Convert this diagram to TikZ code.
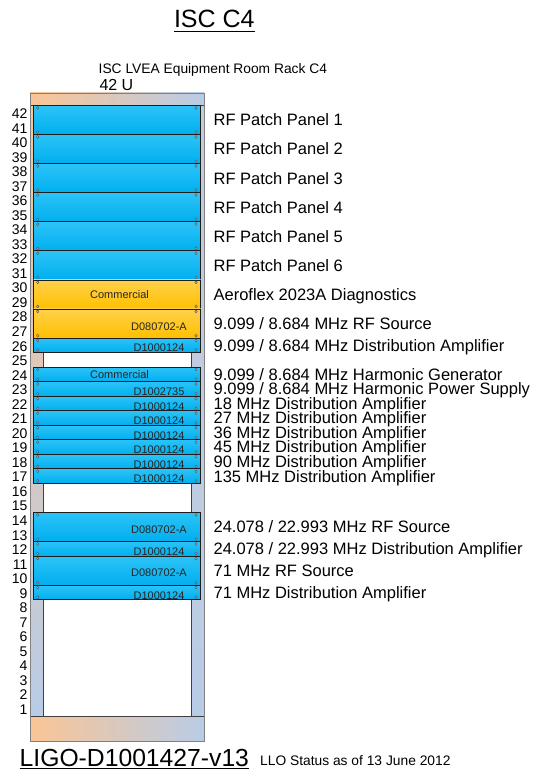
\documentclass[tikz,border=0pt]{standalone}
\usepackage{fontspec}
\setmainfont{Liberation Sans}
\usetikzlibrary{positioning}

\definecolor{rackpeach}{HTML}{FAC596}
\definecolor{rackblue}{HTML}{B9CCE6}
\definecolor{panelblue}{HTML}{00AFEF}
\definecolor{panelbluelt}{HTML}{2CC3F7}
\definecolor{panelorange}{HTML}{FFC000}
\definecolor{panelorangelt}{HTML}{FFD04A}
\definecolor{edge}{HTML}{1E1E1E}

\begin{document}
\begin{tikzpicture}[
			x=1pt, y=14.536pt,
			every node/.style={inner sep=0pt, text=black},
			screw/.style={draw=black!65, line width=0.5pt, fill=black!20, fill opacity=0.6},
			panel/.style={
				draw=edge, line width=0.8pt, minimum width=167pt,
				path picture={
					\foreach \a/\dx/\dy in {north west/4.2/-2.4, north east/-4.4/-2.4, south west/4.2/2.4, south east/-4.4/2.4}
					\draw[screw] ([shift={(\dx pt,\dy pt)}]path picture bounding box.\a) ellipse[x radius=1.2pt, y radius=1.5pt];
				}
			},
			bluepanel/.style={panel, top color=panelbluelt, bottom color=panelblue},
			orangepanel/.style={panel, top color=panelorangelt, bottom color=panelorange},
			oneU/.style={minimum height=14.536pt},
			twoU/.style={minimum height=29.072pt},
			tag/.style={font=\fontsize{11}{12}\selectfont, text=black!85, text height=7.9pt, text depth=0pt},
			desc/.style={font=\fontsize{16.5}{18}\selectfont, text height=11.8pt, text depth=0pt},
			unum/.style={font=\fontsize{14}{15}\selectfont, anchor=east, text height=10pt, text depth=0pt},
			rail/.style={draw=black!75, line width=0.8pt}
			]
			
			\useasboundingbox[fill=white] (0,-3.646) rectangle (536,49.257);
			
			% rack frame
			\shade[rail, left color=rackpeach, right color=rackblue] (30,42) rectangle (204,42.86);
			\shade[rail, top color=rackpeach, bottom color=rackblue] (30,0) rectangle (43,42);
			\shade[rail, top color=rackblue!80!rackpeach, bottom color=rackblue] (191.7,0) rectangle (204,42);
			\shade[rail, left color=rackpeach, right color=rackblue] (30,-1.72) rectangle (204,0);
			\draw[black!50, line width=0.8pt] (30,-1.72) rectangle (204,42.86);
			
			\foreach \n in {1,...,42}
			\node[unum] (u\n) at (27.7,{\n-0.55}) {\n};
			
			% titles
			\node[font=\fontsize{25}{28}\selectfont, anchor=base] (title) at (214.3,47.33) {ISC C4};
			\draw[line width=1.3pt] ([yshift=-3.5pt]title.base west) -- ([yshift=-3.5pt]title.base east);
			\node[font=\fontsize{13.8}{16}\selectfont, anchor=base west] (rack) at (98.5,44.19) {ISC LVEA Equipment Room Rack C4};
			\node[font=\fontsize{16}{18}\selectfont, anchor=base west] (height) at (99.3,43.02) {42 U};
			
			% patch panels
			\node[bluepanel, twoU] (pp1) at (117,41) {};
			\node[bluepanel, twoU] (pp2) at (117,39) {};
			\node[bluepanel, twoU] (pp3) at (117,37) {};
			\node[bluepanel, twoU] (pp4) at (117,35) {};
			\node[bluepanel, twoU] (pp5) at (117,33) {};
			\node[bluepanel, twoU] (pp6) at (117,31) {};
			
			% 9 MHz chassis
			\node[orangepanel, twoU] (aero) at (117,29) {};
			\node[orangepanel, twoU] (src9) at (117,27) {};
			\node[bluepanel, oneU] (dist9) at (117,25.5) {};
			
			\node[bluepanel, oneU] (hgen) at (117,23.5) {};
			\node[bluepanel, oneU] (hps) at (117,22.5) {};
			\node[bluepanel, oneU] (da18) at (117,21.5) {};
			\node[bluepanel, oneU] (da27) at (117,20.5) {};
			\node[bluepanel, oneU] (da36) at (117,19.5) {};
			\node[bluepanel, oneU] (da45) at (117,18.5) {};
			\node[bluepanel, oneU] (da90) at (117,17.5) {};
			\node[bluepanel, oneU] (da135) at (117,16.5) {};
			
			% 24 and 71 MHz chassis
			\node[bluepanel, twoU] (src24) at (117,13) {};
			\node[bluepanel, oneU] (da24) at (117,11.5) {};
			\node[bluepanel, twoU] (src71) at (117,10) {};
			\node[bluepanel, oneU] (da71) at (117,8.5) {};
			
			\node[tag] (aerot) at ([xshift=2.5pt,yshift=-0.4pt]aero.center) {Commercial};
			\node[tag] (src9t) at ([xshift=42pt,yshift=-2.7pt]src9.center) {D080702-A};
			\node[tag] (dist9t) at ([xshift=42pt,yshift=-2.7pt]dist9.center) {D1000124};
			\node[tag] (hgent) at ([xshift=2.5pt,yshift=-0.4pt]hgen.center) {Commercial};
			\node[tag] (hpst) at ([xshift=42pt,yshift=-2.7pt]hps.center) {D1002735};
			\node[tag] (da18t) at ([xshift=42pt,yshift=-2.7pt]da18.center) {D1000124};
			\node[tag] (da27t) at ([xshift=42pt,yshift=-2.7pt]da27.center) {D1000124};
			\node[tag] (da36t) at ([xshift=42pt,yshift=-2.7pt]da36.center) {D1000124};
			\node[tag] (da45t) at ([xshift=42pt,yshift=-2.7pt]da45.center) {D1000124};
			\node[tag] (da90t) at ([xshift=42pt,yshift=-2.7pt]da90.center) {D1000124};
			\node[tag] (da135t) at ([xshift=42pt,yshift=-2.7pt]da135.center) {D1000124};
			\node[tag] (src24t) at ([xshift=42pt,yshift=-2.4pt]src24.center) {D080702-A};
			\node[tag] (da24t) at ([xshift=42pt,yshift=-2.7pt]da24.center) {D1000124};
			\node[tag] (src71t) at ([xshift=42pt,yshift=-2.4pt]src71.center) {D080702-A};
			\node[tag] (da71t) at ([xshift=42pt,yshift=-2.7pt]da71.center) {D1000124};
			
			% what is in each slot
			\node[desc, right=12.5pt of pp1] (pp1d) {RF Patch Panel 1};
			\node[desc, right=12.5pt of pp2] (pp2d) {RF Patch Panel 2};
			\node[desc, right=12.5pt of pp3] (pp3d) {RF Patch Panel 3};
			\node[desc, right=12.5pt of pp4] (pp4d) {RF Patch Panel 4};
			\node[desc, right=12.5pt of pp5] (pp5d) {RF Patch Panel 5};
			\node[desc, right=12.5pt of pp6] (pp6d) {RF Patch Panel 6};
			\node[desc, right=12.5pt of aero] (aerod) {Aeroflex 2023A Diagnostics};
			\node[desc, right=12.5pt of src9] (src9d) {9.099 / 8.684 MHz RF Source};
			\node[desc, right=12.5pt of dist9] (dist9d) {9.099 / 8.684 MHz Distribution Amplifier};
			\node[desc, right=12.5pt of hgen] (hgend) {9.099 / 8.684 MHz Harmonic Generator};
			\node[desc, right=12.5pt of hps] (hpsd) {9.099 / 8.684 MHz Harmonic Power Supply};
			\node[desc, right=12.5pt of da18] (da18d) {18 MHz Distribution Amplifier};
			\node[desc, right=12.5pt of da27] (da27d) {27 MHz Distribution Amplifier};
			\node[desc, right=12.5pt of da36] (da36d) {36 MHz Distribution Amplifier};
			\node[desc, right=12.5pt of da45] (da45d) {45 MHz Distribution Amplifier};
			\node[desc, right=12.5pt of da90] (da90d) {90 MHz Distribution Amplifier};
			\node[desc, right=12.5pt of da135] (da135d) {135 MHz Distribution Amplifier};
			\node[desc, right=12.5pt of src24] (src24d) {24.078 / 22.993 MHz RF Source};
			\node[desc, right=12.5pt of da24] (da24d) {24.078 / 22.993 MHz Distribution Amplifier};
			\node[desc, right=12.5pt of src71] (src71d) {71 MHz RF Source};
			\node[desc, right=12.5pt of da71] (da71d) {71 MHz Distribution Amplifier};
			
			% document number
			\node[font=\fontsize{24.7}{28}\selectfont, anchor=base west] (docnum) at (19.5,-3.46) {LIGO-D1001427-v13};
			\draw[line width=1.2pt] ([yshift=-2pt]docnum.base west) -- ([yshift=-2pt]docnum.base east);
			\node[font=\fontsize{13.8}{16}\selectfont, anchor=base west] (status) at (260,-3.42) {LLO Status as of 13 June 2012};
			
		\end{tikzpicture}
\end{document}
